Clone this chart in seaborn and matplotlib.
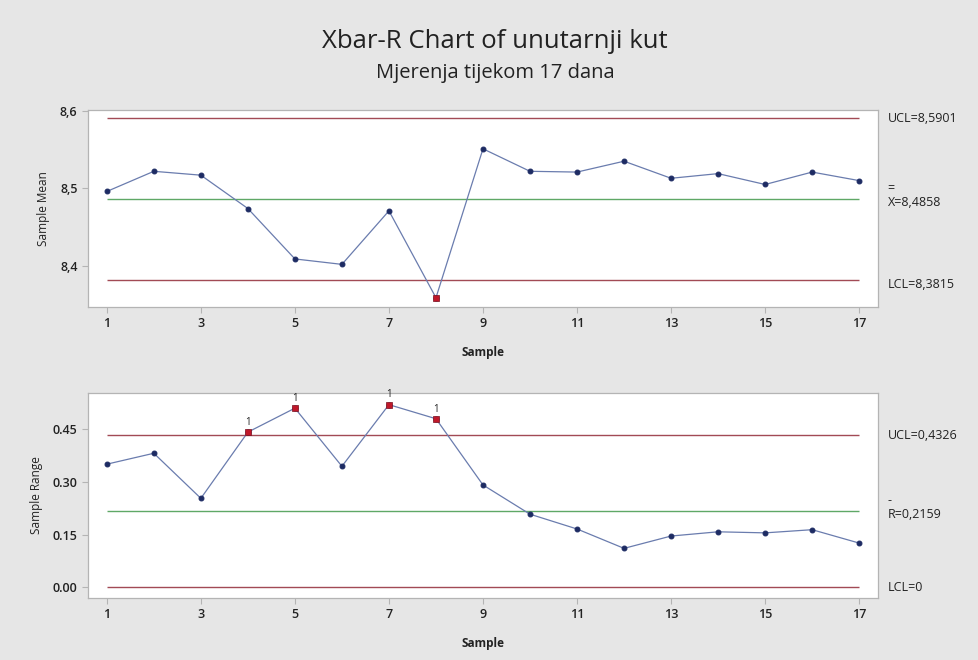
import numpy as np
import pandas as pd
import matplotlib
matplotlib.use("Agg")
import matplotlib.pyplot as plt
import seaborn as sns

# values
samples = list(range(1, 18))
sample_mean = [8.496, 8.522, 8.517, 8.474, 8.409, 8.402, 8.471, 8.359, 8.551,
               8.522, 8.521, 8.535, 8.513, 8.519, 8.505, 8.521, 8.510]
sample_range = [0.350, 0.381, 0.253, 0.441, 0.509, 0.344, 0.519, 0.479, 0.291,
                0.208, 0.166, 0.111, 0.146, 0.158, 0.155, 0.164, 0.126]

xbar_ucl, xbar_cl, xbar_lcl = 8.5901, 8.4858, 8.3815
r_ucl, r_cl, r_lcl = 0.4326, 0.2159, 0.0
mean_flags = [8]
range_flags = [4, 5, 7, 8]

df = pd.DataFrame({"Sample": samples, "Mean": sample_mean, "Range": sample_range})

sns.set_theme(style="white")
plt.rcParams["font.family"] = ["Open Sans", "DejaVu Sans"]

bg = "#e6e6e6"
line_col = "#6a7cae"
mark_col = "#1d2b63"
lim_col = "#a24a55"
cl_col = "#5fa866"
spine_col = "#b4b4b4"

fig = plt.figure(figsize=(9.79, 6.6), dpi=100, facecolor=bg)
ax1 = fig.add_axes([0.0899, 0.5348, 0.8069, 0.2985])
ax2 = fig.add_axes([0.0899, 0.0939, 0.8069, 0.3106])


def draw_panel(ax, col, ucl, cl, lcl, flags, ylabel):
    ax.set_facecolor("white")
    ax.hlines([ucl, lcl], 1, 17, color=lim_col, lw=1.0)
    ax.hlines(cl, 1, 17, color=cl_col, lw=1.0)
    sns.lineplot(data=df, x="Sample", y=col, ax=ax, color=line_col, lw=0.9,
                 marker="o", markersize=3.5, markerfacecolor=mark_col,
                 markeredgecolor=mark_col)
    bad = df[df["Sample"].isin(flags)]
    sns.scatterplot(data=bad, x="Sample", y=col, ax=ax, color="#c0182a",
                    marker="s", s=22, edgecolor="#7a1020", linewidth=0.5, zorder=5)
    ax.set_xlim(0.6, 17.4)
    ax.set_xticks(range(1, 18, 2))
    ax.set_xlabel("Sample", fontsize=8.5, fontweight="bold", color="#222222",
                  labelpad=11)
    ax.set_ylabel(ylabel, fontsize=8.5, color="#222222", labelpad=7)
    for s in ax.spines.values():
        s.set_color(spine_col)
        s.set_linewidth(0.9)
    ax.tick_params(axis="both", length=4, width=0.8, color=spine_col,
                   labelsize=9, labelcolor="#222222", bottom=True, left=True)
    for lbl in ax.get_xticklabels() + ax.get_yticklabels():
        lbl.set_fontweight("semibold")


draw_panel(ax1, "Mean", xbar_ucl, xbar_cl, xbar_lcl, mean_flags, "Sample Mean")
ax1.set_ylim(8.347, 8.601)
ax1.set_yticks([8.4, 8.5, 8.6])
ax1.set_yticklabels(["8,4", "8,5", "8,6"], fontweight="semibold")

draw_panel(ax2, "Range", r_ucl, r_cl, r_lcl, range_flags, "Sample Range")
ax2.set_ylim(-0.030, 0.552)
ax2.set_yticks([0.0, 0.15, 0.30, 0.45])
ax2.set_yticklabels(["0.00", "0.15", "0.30", "0.45"], fontweight="semibold")
for i in range_flags:
    ax2.annotate("1", (i, sample_range[i - 1]), xytext=(0, 3),
                 textcoords="offset points", ha="center", va="bottom",
                 fontsize=7, color="#222222")

# control limit labels to the right of each panel
lab = dict(fontsize=9, color="#222222", ha="left", va="center",
           textcoords="offset points", xycoords=("axes fraction", "data"))
ax1.annotate("UCL=8,5901", (1.0, xbar_ucl), xytext=(7, 0), **lab)
ax1.annotate("=", (1.0, xbar_cl), xytext=(7, 8), **lab)
ax1.annotate("X=8,4858", (1.0, xbar_cl), xytext=(7, -2), **lab)
ax1.annotate("LCL=8,3815", (1.0, xbar_lcl), xytext=(7, -3), **lab)
ax2.annotate("UCL=0,4326", (1.0, r_ucl), xytext=(7, 0), **lab)
ax2.annotate("-", (1.0, r_cl), xytext=(7, 8), **lab)
ax2.annotate("R=0,2159", (1.0, r_cl), xytext=(7, -2), **lab)
ax2.annotate("LCL=0", (1.0, r_lcl), xytext=(7, 0), **lab)

fig.text(0.5055, 0.937, "Xbar-R Chart of unutarnji kut", ha="center", va="center",
         fontsize=18.5, color="#222222")
fig.text(0.5055, 0.890, "Mjerenja tijekom 17 dana", ha="center", va="center",
         fontsize=14.5, color="#222222")

fig.savefig("out.png", dpi=100, facecolor=bg)
